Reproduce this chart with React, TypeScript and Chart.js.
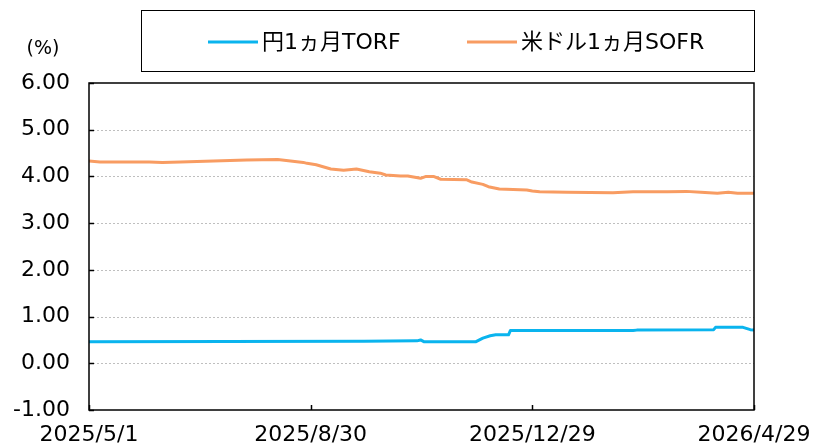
import React, { useEffect, useRef } from "react";
import { Chart, registerables } from "chart.js";

Chart.register(...registerables);

const START = "2025-05-01";
const xTickLabels = ["2025/5/1", "2025/8/30", "2025/12/29", "2026/4/29"];
const yTicks = [-1, 0, 1, 2, 3, 4, 5, 6];
const unitLabel = "(%)";

const torfLabel = "円1ヵ月TORF";
const torfDates = [
  "2025-05-01", "2025-09-28", "2025-10-27", "2025-10-29", "2025-10-31",
  "2025-11-28", "2025-12-02", "2025-12-06", "2025-12-09", "2025-12-16",
  "2025-12-17", "2026-02-22", "2026-02-24", "2026-04-07", "2026-04-08",
  "2026-04-23", "2026-04-27", "2026-04-29",
];
const torfValues = [
  0.46, 0.47, 0.48, 0.5, 0.46,
  0.46, 0.54, 0.59, 0.61, 0.61,
  0.7, 0.7, 0.71, 0.72, 0.77,
  0.77, 0.72, 0.71,
];

const sofrLabel = "米ドル1ヵ月SOFR";
const sofrDates = [
  "2025-05-01", "2025-05-07", "2025-06-03", "2025-06-10", "2025-06-20",
  "2025-07-08", "2025-07-26", "2025-08-12", "2025-08-26", "2025-08-28",
  "2025-09-02", "2025-09-10", "2025-09-17", "2025-09-24", "2025-10-01",
  "2025-10-07", "2025-10-10", "2025-10-18", "2025-10-22", "2025-10-29",
  "2025-11-01", "2025-11-05", "2025-11-09", "2025-11-23", "2025-11-26",
  "2025-12-02", "2025-12-05", "2025-12-11", "2025-12-26", "2025-12-29",
  "2026-01-02", "2026-01-17", "2026-02-11", "2026-02-22", "2026-03-13",
  "2026-03-23", "2026-03-31", "2026-04-09", "2026-04-15", "2026-04-20",
  "2026-04-29",
];
const sofrValues = [
  4.33, 4.31, 4.31, 4.3, 4.31,
  4.33, 4.35, 4.36, 4.3, 4.28,
  4.25, 4.16, 4.13, 4.16, 4.1,
  4.07, 4.03, 4.01, 4.01, 3.96,
  4.0, 4.0, 3.94, 3.93, 3.88,
  3.83, 3.78, 3.73, 3.71, 3.69,
  3.67, 3.66, 3.65, 3.67, 3.67,
  3.68, 3.66, 3.64, 3.66, 3.64,
  3.64,
];

const FONT = "'DejaVu Sans', 'Noto Sans CJK JP', sans-serif";

function toUTC(s: string): number {
  const parts = s.split(/[-/]/).map(Number);
  return Date.UTC(parts[0], parts[1] - 1, parts[2]);
}
function dayOffset(s: string): number {
  return Math.round((toUTC(s) - toUTC(START)) / 86400000);
}

const xTickDays = xTickLabels.map(dayOffset);

const framePlugin = {
  id: "framePlugin",
  beforeDatasetsDraw(chart: any) {
    const { ctx, chartArea: a, scales } = chart;
    const y = scales.y;
    ctx.save();
    ctx.strokeStyle = "#BFBFBF";
    ctx.lineWidth = 1;
    ctx.setLineDash([2, 2]);
    yTicks.forEach((v) => {
      if (v === -1 || v === 6) return;
      const py = Math.round(y.getPixelForValue(v)) + 0.5;
      ctx.beginPath();
      ctx.moveTo(a.left, py);
      ctx.lineTo(a.right, py);
      ctx.stroke();
    });
    ctx.restore();
  },
  afterDatasetsDraw(chart: any) {
    const { ctx, chartArea: a, scales } = chart;
    const x = scales.x;
    const y = scales.y;
    ctx.save();
    ctx.strokeStyle = "#000000";
    ctx.lineWidth = 1.5;
    ctx.setLineDash([]);
    ctx.strokeRect(a.left, a.top, a.right - a.left, a.bottom - a.top);
    yTicks.forEach((v) => {
      const py = Math.round(y.getPixelForValue(v)) + 0.5;
      ctx.beginPath();
      ctx.moveTo(a.left, py);
      ctx.lineTo(a.left + 5, py);
      ctx.stroke();
    });
    xTickDays.forEach((d) => {
      const px = Math.round(x.getPixelForValue(d)) + 0.5;
      ctx.beginPath();
      ctx.moveTo(px, a.bottom);
      ctx.lineTo(px, a.bottom - 5);
      ctx.stroke();
    });
    ctx.restore();
  },
  afterDraw(chart: any) {
    const { ctx } = chart;
    ctx.save();
    ctx.strokeStyle = "#000000";
    ctx.lineWidth = 1;
    ctx.strokeRect(141.5, 10.5, 613, 61);
    const items = chart.data.datasets.map((ds: any) => ({ label: ds.label, color: ds.borderColor }));
    const starts = [208, 467];
    ctx.font = `22px ${FONT}`;
    ctx.textBaseline = "middle";
    ctx.textAlign = "left";
    items.forEach((it: any, i: number) => {
      const sx = starts[i];
      ctx.strokeStyle = it.color;
      ctx.lineWidth = 3;
      ctx.beginPath();
      ctx.moveTo(sx, 42);
      ctx.lineTo(sx + 50, 42);
      ctx.stroke();
      ctx.fillStyle = "#000000";
      ctx.fillText(it.label, sx + 54, 43);
    });
    ctx.font = `19px ${FONT}`;
    ctx.textAlign = "center";
    ctx.fillText(unitLabel, 43, 49);
    ctx.restore();
  },
};

export default function App() {
  const ref = useRef<HTMLCanvasElement | null>(null);
  useEffect(() => {
    document.body.style.margin = "0";
    if (!ref.current) return;
    const chart = new Chart(ref.current, {
      type: "line",
      data: {
        datasets: [
          {
            label: torfLabel,
            data: torfDates.map((d, i) => ({ x: dayOffset(d), y: torfValues[i] })),
            borderColor: "#0AB4EE",
            borderWidth: 3,
            pointRadius: 0,
            tension: 0,
            borderJoinStyle: "round",
          },
          {
            label: sofrLabel,
            data: sofrDates.map((d, i) => ({ x: dayOffset(d), y: sofrValues[i] })),
            borderColor: "#F89C62",
            borderWidth: 3,
            pointRadius: 0,
            tension: 0,
            borderJoinStyle: "round",
          },
        ],
      },
      options: {
        animation: false,
        responsive: false,
        devicePixelRatio: 1,
        layout: { padding: { left: 0, top: 83, right: 60, bottom: 0 } },
        plugins: { legend: { display: false }, tooltip: { enabled: false } },
        scales: {
          x: {
            type: "linear",
            min: 0,
            max: dayOffset(xTickLabels[xTickLabels.length - 1]),
            grid: { display: false, drawTicks: false },
            border: { display: false },
            afterBuildTicks: (scale: any) => {
              scale.ticks = xTickDays.map((v) => ({ value: v }));
            },
            afterFit: (scale: any) => {
              scale.height = 36;
              scale.paddingLeft = 0;
              scale.paddingRight = 0;
            },
            ticks: {
              autoSkip: false,
              maxRotation: 0,
              padding: 12,
              color: "#000000",
              font: { family: FONT, size: 22 },
              callback: (v: any) => {
                const idx = xTickDays.indexOf(Number(v));
                return idx >= 0 ? xTickLabels[idx] : "";
              },
            },
          },
          y: {
            min: yTicks[0],
            max: yTicks[yTicks.length - 1],
            grid: { display: false, drawTicks: false },
            border: { display: false },
            afterFit: (scale: any) => {
              scale.width = 89;
              scale.paddingTop = 0;
              scale.paddingBottom = 0;
            },
            ticks: {
              stepSize: 1,
              padding: 19,
              color: "#000000",
              font: { family: FONT, size: 22 },
              callback: (v: any) => Number(v).toFixed(2),
            },
          },
        },
      },
      plugins: [framePlugin],
    } as any);
    return () => chart.destroy();
  }, []);
  return (
    <div style={{ width: 814, height: 446, position: "relative" }}>
      <canvas ref={ref} width={814} height={446} style={{ display: "block" }} />
    </div>
  );
}
